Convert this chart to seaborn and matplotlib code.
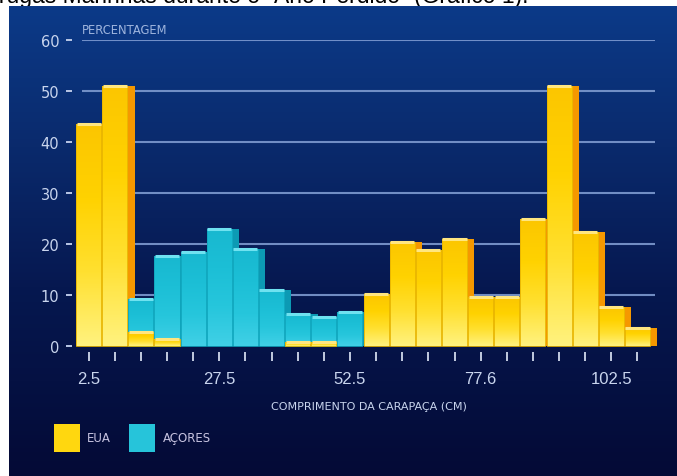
import numpy as np
import matplotlib
matplotlib.use("Agg")
import matplotlib.pyplot as plt
import seaborn as sns
from matplotlib.colors import LinearSegmentedColormap
from matplotlib.patches import Patch

bins = ["2.5", "7.5", "12.5", "17.5", "22.5", "27.5", "32.5", "37.5", "42.5", "47.5", "52.5",
        "57.5", "62.5", "67.5", "72.5", "77.5", "82.5", "87.5", "92.5", "97.5", "102.5", "107.5"]
tick_labels = ["2.5", "", "", "", "", "27.5", "", "", "", "", "52.5",
               "", "", "", "", "77.6", "", "", "", "", "102.5", ""]
eua = [43.5, 51, 2.7, 1.4, 0, 0, 0, 0, 0.7, 0.7, 0,
       10.2, 20.4, 18.8, 21, 9.6, 9.6, 25, 51, 22.4, 7.6, 3.6]
acores = [0, 0, 9.2, 17.6, 18.4, 23, 19, 11, 6.3, 5.7, 6.6,
          0, 0, 0, 0, 0, 0, 0, 0, 0, 0, 0]
yticks = [0, 10, 20, 30, 40, 50, 60]

sns.set_theme(style="dark")
plt.rcParams["font.family"] = ["DejaVu Sans"]
txt = "#c9d5ee"

fig = plt.figure(figsize=(6.77, 4.77), dpi=100, facecolor="white")

# header line cut off at the top of the picture
fig.text(528 / 677, 1 - 2.5 / 477, "Tartarugas Marinhas durante o \u201cAno Perdido\u201d (Gr\u00e1fico 1).",
         ha="right", va="baseline", fontsize=16.5, family="Liberation Sans", color="black", zorder=-5)

# dark blue gradient panel
bg = fig.add_axes([9 / 677, 0, 668 / 677, 470 / 477])
bg_cmap = LinearSegmentedColormap.from_list(
    "bg", [(0, "#040a36"), (0.4, "#061850"), (0.7, "#0a2a6c"), (1.0, "#0c3a88")])
t = np.linspace(0, 1, 300)[:, None] * np.ones((1, 50))
bg.imshow(t, aspect="auto", cmap=bg_cmap, origin="lower", extent=[0, 1, 0, 1])
bg.axis("off")

ax = fig.add_axes([82 / 677, 130 / 477, 573 / 677, 306 / 477])
ax.set_facecolor("none")
ax.set_axisbelow(True)

sns.barplot(x=bins, y=acores, order=bins, color="#22c3d8", saturation=1, width=0.96,
            edgecolor="#10a6bd", linewidth=0.6, ax=ax)
sns.barplot(x=bins, y=eua, order=bins, color="#ffd200", saturation=1, width=0.96,
            edgecolor="#e8b400", linewidth=0.6, ax=ax)

n = len(bins)
cyan_patches = ax.patches[:n]
yellow_patches = ax.patches[n:2 * n]

yel_cmap = LinearSegmentedColormap.from_list("yel", ["#fff27e", "#ffe030", "#ffd200", "#fcc600"])
cya_cmap = LinearSegmentedColormap.from_list("cya", ["#40d0e6", "#26c6dc", "#1cbfd6", "#18b8d0"])
grad = np.linspace(0, 1, 100)[:, None]


def paint(patches, cmap, z):
    for p in patches:
        h = p.get_height()
        if h <= 0:
            p.set_visible(False)
            continue
        x0 = p.get_x()
        w = p.get_width()
        im = ax.imshow(grad, cmap=cmap, aspect="auto", origin="lower",
                       extent=[x0, x0 + w, 0, h], zorder=z)
        im.set_clip_path(p)
        p.set_facecolor("none")
        p.set_zorder(z + 0.1)
        p.set_clip_on(False)


paint(cyan_patches, cya_cmap, 3)
paint(yellow_patches, yel_cmap, 4)

# 3d side faces and top caps
pos = np.arange(n)
ax.bar(pos + 0.62, acores, width=0.28, color="#0c9ab4", edgecolor="none", linewidth=0,
       zorder=2, clip_on=False)
ax.bar(pos + 0.62, eua, width=0.28, color="#f59800", edgecolor="none", linewidth=0,
       zorder=2, clip_on=False)
for vals, cap, z in [(acores, "#6fe2f0", 3.2), (eua, "#ffe680", 4.2)]:
    v = np.array(vals)
    m = v > 0
    ax.hlines(v[m], pos[m] - 0.46, pos[m] + 0.46, color=cap, lw=2.2, zorder=z, clip_on=False)

ax.set_xlim(-0.25, 21.67)
ax.set_ylim(0, 60)
ax.set_yticks(yticks)
ax.set_yticklabels([str(v) for v in yticks])
ax.set_xticks(pos)
ax.set_xticklabels(tick_labels)

ax.yaxis.grid(True, color="#7d9ad0", lw=1.5, alpha=0.9)
ax.xaxis.grid(False)
for s in ax.spines.values():
    s.set_visible(False)
ax.spines["left"].set_position(("outward", 7))
ax.spines["bottom"].set_position(("outward", 4.3))

ax.tick_params(axis="y", left=True, length=4.3, width=1.4, color="#b9c7e6", pad=5,
               labelsize=10.5, labelcolor=txt)
ax.tick_params(axis="x", bottom=True, length=6.5, width=1.4, color="#c2cbe0", pad=7,
               labelsize=12, labelcolor=txt)
for lab in ax.get_xticklabels():
    lab.set_family("Liberation Sans")

ax.set_xlabel("COMPRIMENTO DA CARAPA\u00c7A (CM)", fontsize=8, color=txt, labelpad=11)
ax.set_ylabel("")
ax.text(0.0, 1.012, "PERCENTAGEM", transform=ax.transAxes, fontsize=8.3, color="#9fb5de",
        ha="left", va="bottom")

handles = [Patch(facecolor="#ffd70f", edgecolor="none"), Patch(facecolor="#26c4da", edgecolor="none")]
fig.legend(handles, ["EUA", "A\u00c7ORES"], loc="center left", bbox_to_anchor=(43 / 677, 1 - 439 / 477),
           ncol=2, frameon=False, fontsize=8.5, labelcolor="#c7c3e0", handlelength=2.2,
           handleheight=3.2, handletextpad=0.6, columnspacing=1.6)

fig.savefig("out.png", dpi=100, facecolor="white")
